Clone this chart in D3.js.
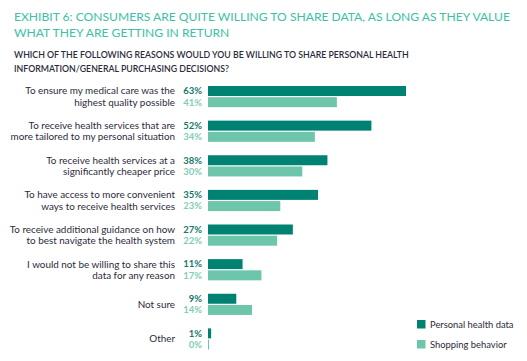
<!DOCTYPE html>
<html><head><meta charset="utf-8">
<script src="https://cdn.jsdelivr.net/npm/d3@7/dist/d3.min.js"></script>
<style>body{margin:0;background:#fff;} svg{display:block;}</style>
</head><body>
<svg id="c" width="527" height="361"></svg>
<script>
const categories = [
  ["To ensure my medical care was the", "highest quality possible"],
  ["To receive health services that are", "more tailored to my personal situation"],
  ["To receive health services at a", "significantly cheaper price"],
  ["To have access to more convenient", "ways to receive health services"],
  ["To receive additional guidance on how", "to best navigate the health system"],
  ["I would not be willing to share this", "data for any reason"],
  ["Not sure"],
  ["Other"]
];
const personalHealth = [63, 52, 38, 35, 27, 11, 9, 1];
const shopping = [41, 34, 30, 23, 22, 17, 14, 0];
const seriesNames = ["Personal health data", "Shopping behavior"];
const colors = ["#008272", "#6dc6ab"];
const labelColors = ["#14786c", "#7fcdb4"];
const titleLines = ["EXHIBIT 6: CONSUMERS ARE QUITE WILLING TO SHARE DATA, AS LONG AS THEY VALUE", "WHAT THEY ARE GETTING IN RETURN"];
const subtitleLines = ["WHICH OF THE FOLLOWING REASONS WOULD YOU BE WILLING TO SHARE PERSONAL HEALTH", "INFORMATION/GENERAL PURCHASING DECISIONS?"];

const svg = d3.select("#c");
const font = "Lato, 'Open Sans', sans-serif";

svg.append("g").selectAll("text").data(titleLines).join("text")
  .attr("x", 14).attr("y", (d,i)=>21+i*16)
  .attr("font-family", font).attr("font-size", 12.1).attr("fill", "#3cc1a6")
  .text(d=>d);
svg.append("g").selectAll("text").data(subtitleLines).join("text")
  .attr("x", 14).attr("y", (d,i)=>57.5+i*14)
  .attr("font-family", font).attr("font-size", 8.75).attr("font-weight", 600).attr("fill", "#2b2b3b")
  .text(d=>d);

const x = d3.scaleLinear().domain([0, 63]).range([208, 406]);
const y = d3.scaleBand().domain(d3.range(categories.length)).range([81, 358]).paddingInner(0).paddingOuter(0);
const bh = 10, gap = 1.2;

const g = svg.append("g");
const rows = g.selectAll("g.row").data(categories).join("g").attr("class","row")
  .attr("transform", (d,i)=>`translate(0,${y(i)+5})`);

[personalHealth, shopping].forEach((vals, s) => {
  rows.append("rect")
    .attr("x", x(0))
    .attr("y", s*(bh+gap))
    .attr("width", (d,i)=>Math.max(1, x(vals[i]) - x(0)))
    .attr("height", bh)
    .attr("fill", colors[s]);
  rows.append("text")
    .attr("x", 202)
    .attr("y", s*(bh+gap) + bh/2)
    .attr("dy", "0.35em")
    .attr("text-anchor", "end")
    .attr("font-family", font).attr("font-size", 9.5).attr("font-weight", 700)
    .attr("fill", labelColors[s])
    .text((d,i)=>vals[i] + "%");
});

rows.each(function(lines){
  const sel = d3.select(this);
  const n = lines.length;
  lines.forEach((t, k) => {
    const cy = n === 1 ? (bh + gap/2) : k*(bh+gap) + bh/2;
    sel.append("text")
      .attr("x", 175).attr("y", cy).attr("dy", "0.35em")
      .attr("text-anchor", "end")
      .attr("font-family", font).attr("font-size", 9.9).attr("fill", "#2b2b3b")
      .text(t);
  });
});

const lg = svg.append("g").selectAll("g").data(seriesNames).join("g")
  .attr("transform", (d,i)=>`translate(417,${320+i*20})`);
lg.append("rect").attr("width", 8.5).attr("height", 8.5).attr("fill", (d,i)=>colors[i]);
lg.append("text").attr("x", 13).attr("y", 4.25).attr("dy", "0.35em")
  .attr("font-family", font).attr("font-size", 9.4).attr("fill", "#2b2b3b").text(d=>d);
</script>
</body></html>
